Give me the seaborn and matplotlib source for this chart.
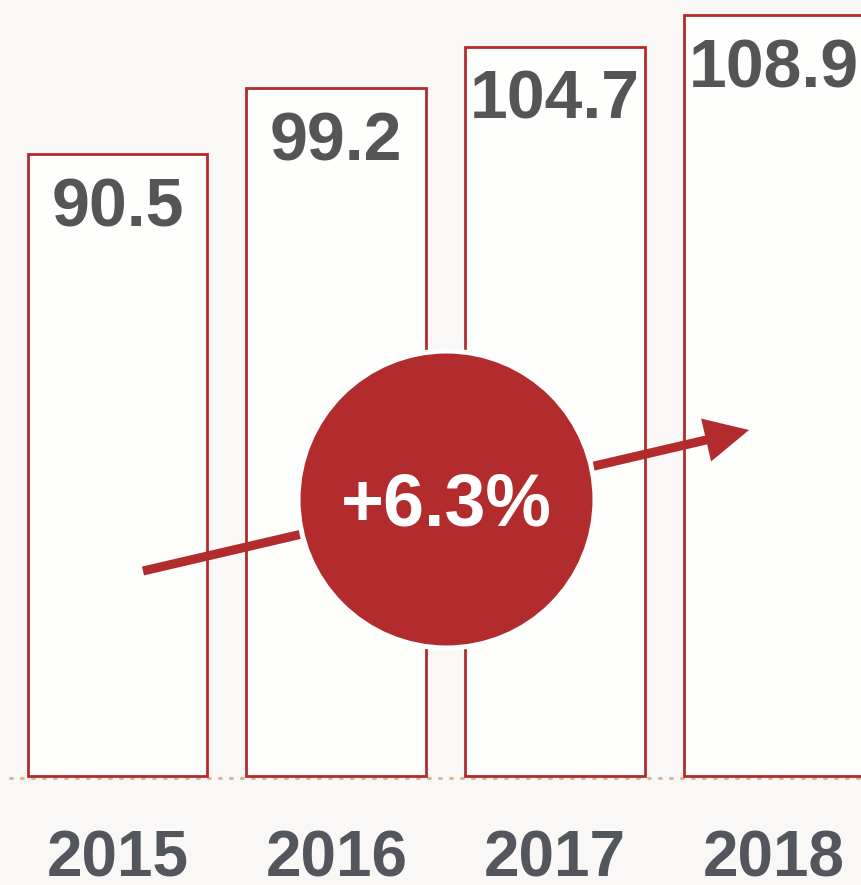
import matplotlib
matplotlib.use("Agg")
import matplotlib.pyplot as plt
import seaborn as sns
import pandas as pd

years = ["2015", "2016", "2017", "2018"]
values = [90.5, 99.2, 104.7, 108.9]
value_labels = ["90.5", "99.2", "104.7", "108.9"]
growth_label = "+6.3%"

RED = "#B22B2D"
BG = "#F9F8F6"
BAR_FILL = "#FEFEFD"
VAL_COLOR = "#555555"
YEAR_COLOR = "#53575D"
DOT_COLOR = "#D9B597"

sns.set_theme(style="white")
plt.rcParams["font.family"] = ["Liberation Sans", "DejaVu Sans"]

df = pd.DataFrame({"year": years, "value": values})

fig = plt.figure(figsize=(8.62, 8.85), dpi=100, facecolor=BG)
ax = fig.add_axes([0, 0, 1, 1])
ax.set_facecolor(BG)

sns.barplot(data=df, x="year", y="value", ax=ax, color=BAR_FILL,
            edgecolor=RED, linewidth=2.0, width=0.822, saturation=1)

baseline = 8.1
for p in ax.patches:
    top = p.get_y() + p.get_height()
    p.set_y(baseline)
    p.set_height(top - baseline)
    p.set_facecolor(BAR_FILL)
    p.set_zorder(1)

ax.set_xlim(-0.537, 3.403)
ax.set_ylim(-6.34, 110.88)
ax.axis("off")

# dotted baseline
ax.plot([-0.49, 3.403], [baseline - 0.3, baseline - 0.3], linestyle=(0, (0.6, 3.0)),
        color=DOT_COLOR, lw=2.2, zorder=0.5, solid_capstyle="round",
        dash_capstyle="round")

# value labels inside bars
for i, (v, lab) in enumerate(zip(values, value_labels)):
    ax.annotate(lab, xy=(i, v), xytext=(0, -16), textcoords="offset points",
                ha="center", va="top", fontsize=49, fontweight="bold",
                color=VAL_COLOR, zorder=4)

# year labels
for i, y in enumerate(years):
    ax.text(i, 0.01, y, transform=ax.get_xaxis_transform(), ha="center",
            va="baseline", fontsize=46, fontweight="bold", color=YEAR_COLOR)

# growth arrow
ax.annotate("", xy=(0.8689, 0.5141), xytext=(0.1659, 0.3548),
            xycoords="axes fraction", textcoords="axes fraction",
            arrowprops=dict(arrowstyle="simple,head_length=31.7,head_width=31.7,tail_width=6.5",
                            mutation_scale=1, color=RED, lw=0, shrinkA=0, shrinkB=0),
            zorder=3)

# circle with growth rate
ax.scatter([0.5174], [0.4362], s=213.8 ** 2, transform=ax.transAxes,
           color=RED, edgecolor="white", linewidth=3.6, zorder=5, clip_on=False)
ax.text(0.5174, 0.4362, growth_label, transform=ax.transAxes, ha="center",
        va="center_baseline", fontsize=53, fontweight="bold", color="white", zorder=6)

fig.savefig("out.png", dpi=100, facecolor=BG)
